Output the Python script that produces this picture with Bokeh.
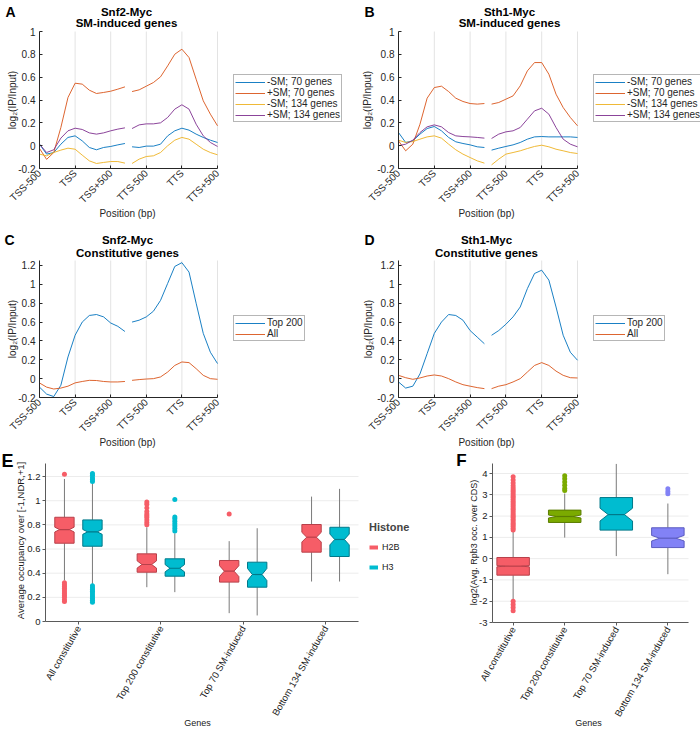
import math
from bokeh.plotting import figure
from bokeh.models import Range1d, FixedTicker, Label, Legend, LegendItem
from bokeh.layouts import column, row
from bokeh.embed import file_html
from bokeh.resources import INLINE

FONT = "Liberation Sans"
INK = "#262626"

# ---------------- profile data (panels A-D) ----------------
POS_TICKS = [0, 500, 1000, 1500, 2000, 2500]
POS_LABELS = ["TSS-500", "TSS", "TSS+500", "TTS-500", "TTS", "TTS+500"]
SEG1_X = [0, 100, 200, 300, 400, 500, 600, 700, 800, 900, 1000, 1100, 1200]
SEG2_X = [1300, 1400, 1500, 1600, 1700, 1800, 1900, 2000, 2100, 2200, 2300, 2400, 2500]

A_MINUS_70_S1 = [0.013, -0.074, -0.06, 0.013, 0.072, 0.086, 0.042, -0.016, -0.036, -0.016, -0.007, 0.007, 0.019]
A_MINUS_70_S2 = [-0.01, -0.016, -0.004, -0.004, 0.013, 0.086, 0.13, 0.153, 0.136, 0.101, 0.072, 0.048, 0.028]
A_PLUS_70_S1 = [-0.025, -0.12, -0.06, 0.159, 0.422, 0.547, 0.539, 0.486, 0.457, 0.466, 0.477, 0.495, 0.515]
A_PLUS_70_S2 = [0.474, 0.489, 0.521, 0.553, 0.603, 0.699, 0.801, 0.845, 0.772, 0.582, 0.393, 0.276, 0.174]
A_MINUS_134_S1 = [-0.074, -0.089, -0.06, -0.039, -0.022, -0.031, -0.083, -0.133, -0.156, -0.147, -0.139, -0.139, -0.153]
A_MINUS_134_S2 = [-0.156, -0.118, -0.095, -0.089, -0.06, -0.001, 0.048, 0.072, 0.057, 0.013, -0.031, -0.06, -0.08]
A_PLUS_134_S1 = [0.013, -0.06, -0.036, 0.066, 0.13, 0.153, 0.142, 0.112, 0.101, 0.112, 0.13, 0.145, 0.156]
A_PLUS_134_S2 = [0.15, 0.182, 0.191, 0.191, 0.2, 0.247, 0.32, 0.358, 0.32, 0.188, 0.086, 0.028, -0.007]

B_MINUS_70_S1 = [0.115, 0.028, 0.042, 0.101, 0.15, 0.168, 0.13, 0.072, 0.034, 0.019, 0.007, -0.01, -0.016]
B_MINUS_70_S2 = [-0.039, -0.022, -0.007, 0.007, 0.028, 0.057, 0.077, 0.08, 0.077, 0.077, 0.077, 0.077, 0.072]
B_PLUS_70_S1 = [0.042, -0.045, 0.013, 0.188, 0.416, 0.509, 0.521, 0.474, 0.416, 0.387, 0.369, 0.364, 0.369]
B_PLUS_70_S2 = [0.364, 0.378, 0.407, 0.436, 0.524, 0.655, 0.728, 0.728, 0.626, 0.451, 0.334, 0.247, 0.174]
B_MINUS_134_S1 = [0.048, 0.028, 0.036, 0.057, 0.077, 0.086, 0.066, 0.013, -0.036, -0.074, -0.104, -0.133, -0.153]
B_MINUS_134_S2 = [-0.168, -0.118, -0.074, -0.06, -0.045, -0.025, -0.007, 0.004, -0.01, -0.031, -0.045, -0.06, -0.069]
B_PLUS_134_S1 = [-0.001, 0.013, 0.048, 0.115, 0.165, 0.182, 0.165, 0.115, 0.086, 0.08, 0.077, 0.072, 0.066]
B_PLUS_134_S2 = [0.063, 0.101, 0.121, 0.13, 0.159, 0.232, 0.305, 0.328, 0.276, 0.159, 0.057, 0.013, -0.01]

C_TOP200_S1 = [-0.09, -0.164, -0.19, -0.07, 0.23, 0.46, 0.6, 0.67, 0.68, 0.655, 0.59, 0.555, 0.5]
C_TOP200_S2 = [0.6, 0.62, 0.655, 0.715, 0.83, 1.01, 1.19, 1.23, 1.13, 0.8, 0.48, 0.28, 0.16]
C_ALL_S1 = [-0.046, -0.09, -0.11, -0.1, -0.08, -0.045, -0.03, -0.018, -0.02, -0.03, -0.035, -0.035, -0.03]
C_ALL_S2 = [-0.018, -0.01, -0.004, 0.0, 0.018, 0.07, 0.14, 0.177, 0.17, 0.106, 0.035, 0.0, -0.007]

D_TOP200_S1 = [-0.035, -0.1, -0.08, 0.05, 0.265, 0.48, 0.6, 0.68, 0.67, 0.62, 0.51, 0.44, 0.37]
D_TOP200_S2 = [0.46, 0.51, 0.577, 0.655, 0.76, 0.955, 1.115, 1.15, 1.045, 0.76, 0.46, 0.28, 0.195]
D_ALL_S1 = [0.035, 0.01, -0.007, 0.007, 0.028, 0.039, 0.028, 0.0, -0.035, -0.064, -0.08, -0.095, -0.106]
D_ALL_S2 = [-0.106, -0.08, -0.064, -0.035, 0.0, 0.07, 0.14, 0.17, 0.14, 0.08, 0.035, 0.01, 0.007]

SM_LABELS = ["-SM; 70 genes", "+SM; 70 genes", "-SM; 134 genes", "+SM; 134 genes"]
CONST_LABELS = ["Top 200", "All"]
ML_COLORS = ["#0072BD", "#D95319", "#EDB120", "#7E2F8E"]

# ---------------- box data (panels E, F) ----------------
GENE_CATS = ["All constitutive", "Top 200 constitutive", "Top 70 SM-induced", "Bottom 134 SM-induced"]
HISTONES = ["H2B", "H3"]

E_H2B_Q1 = [0.648, 0.408, 0.326, 0.574]
E_H2B_MED = [0.761, 0.472, 0.417, 0.698]
E_H2B_Q3 = [0.863, 0.560, 0.505, 0.803]
E_H2B_WLO = [0.34, 0.284, 0.069, 0.331]
E_H2B_WHI = [1.18, 0.78, 0.665, 1.034]
E_H2B_NOTCH = [0.02, 0.03, 0.045, 0.04]
E_H2B_OUT_CAT = [1] * 12 + [2] * 10 + [3]
E_H2B_OUT_VAL = [1.22, 0.165, 0.18, 0.2, 0.215, 0.23, 0.245, 0.26, 0.275, 0.29, 0.305, 0.32,
                 0.80, 0.82, 0.84, 0.86, 0.875, 0.89, 0.91, 0.94, 0.97, 0.99, 0.89]

E_H3_Q1 = [0.623, 0.375, 0.284, 0.538]
E_H3_MED = [0.742, 0.441, 0.389, 0.679]
E_H3_Q3 = [0.841, 0.519, 0.491, 0.780]
E_H3_WLO = [0.31, 0.243, 0.05, 0.331]
E_H3_WHI = [1.15, 0.73, 0.772, 1.098]
E_H3_NOTCH = [0.02, 0.03, 0.05, 0.045]
E_H3_OUT_CAT = [1] * 15 + [2] * 8
E_H3_OUT_VAL = [1.16, 1.175, 1.19, 1.21, 1.225, 0.16, 0.175, 0.19, 0.205, 0.22, 0.235, 0.25, 0.265, 0.28, 0.295,
                0.75, 0.77, 0.79, 0.81, 0.83, 0.85, 0.865, 1.01]

F_Q1 = [-0.776, 1.70, 1.34, 0.52]
F_MED = [-0.353, 1.98, 2.07, 0.96]
F_Q3 = [0.054, 2.28, 2.87, 1.45]
F_WLO = [-1.95, 0.99, 0.12, -0.73]
F_WHI = [1.30, 3.06, 4.45, 2.59]
F_NOTCH = [0.03, 0.07, 0.3, 0.13]
F_OUT_CAT = [1] * 32 + [2] * 6 + [4] * 3
F_OUT_VAL = [1.35, 1.43, 1.52, 1.6, 1.68, 1.77, 1.85, 1.94, 2.02, 2.1, 2.19, 2.28, 2.36, 2.45, 2.53, 2.62,
             2.7, 2.79, 2.88, 2.96, 3.05, 3.14, 3.23, 3.32, 3.42, 3.55, 3.7, 3.85,
             -2.0, -2.15, -2.3, -2.45,
             3.2, 3.3, 3.45, 3.6, 3.75, 3.9,
             3.05, 3.15, 3.28]

E_FILL = {"H2B": "#F65D67", "H3": "#00BCD0"}
E_LINE = {"H2B": "#B8404A", "H3": "#00798A"}
F_FILL = ["#F65D67", "#7BAA00", "#00BCD0", "#8282F6"]
F_LINE = ["#B8404A", "#5A7D00", "#00798A", "#5C5CC0"]


def canvas_fig(W, H, L, R, T, B, x0, x1, y0, y1):
    """Figure whose frame fills the whole canvas; data box [x0,x1]x[y0,y1] maps to pixels L..R, T..B."""
    sx = (x1 - x0) / (R - L)
    sy = (y1 - y0) / (B - T)
    p = figure(width=W, height=H, output_backend="svg", toolbar_location=None,
               x_range=Range1d(x0 - L * sx, x1 + (W - R) * sx),
               y_range=Range1d(y0 - (H - B) * sy, y1 + T * sy),
               min_border=0)
    if p.title is not None:
        p.title.visible = False
    p.outline_line_color = None
    p.xgrid.visible = False
    p.ygrid.visible = False
    p.xaxis.fixed_location = y0
    p.xaxis.bounds = (x0, x1)
    p.yaxis.fixed_location = x0
    p.yaxis.bounds = (y0, y1)
    return p


def txt(p, x, y, text, size, bold=False, angle=0.0, color="black", align="center"):
    p.add_layout(Label(x=x, y=p.height - y, x_units="screen", y_units="screen", text=text, angle=angle,
                       text_font=FONT, text_font_size=size,
                       text_font_style="bold" if bold else "normal",
                       text_align=align, text_baseline="middle", text_color=color))


def fmt_overrides(ticks):
    return {t: f"{t:g}" for t in ticks}


def style_axes(p, color, tick_in, tick_out, size, label_color):
    for ax in (p.xaxis[0], p.yaxis[0]):
        ax.axis_line_color = color
        ax.major_tick_line_color = color
        ax.major_tick_in = tick_in
        ax.major_tick_out = tick_out
        ax.minor_tick_line_color = None
        ax.major_label_text_font = FONT
        ax.major_label_text_font_size = size
        ax.major_label_text_color = label_color


def profile(W, H, L, R, T, B, ytop, yticks, series, labels, legend_loc,
            titles, title_x, title_ys, letter, letter_x, ylab_x, pos_xy):
    p = canvas_fig(W, H, L, R, T, B, 0, 2500, -0.2, ytop)
    p.segment(x0=POS_TICKS, y0=[-0.2] * len(POS_TICKS), x1=POS_TICKS, y1=[ytop] * len(POS_TICKS),
              line_color="#e3e3e3", line_width=1)
    p.xaxis.ticker = FixedTicker(ticks=POS_TICKS)
    p.xaxis.major_label_overrides = dict(zip(POS_TICKS, POS_LABELS))
    p.xaxis.major_label_orientation = math.pi / 4
    p.xaxis.major_label_standoff = 3
    p.yaxis.ticker = FixedTicker(ticks=yticks)
    p.yaxis.major_label_overrides = fmt_overrides(yticks)
    p.yaxis.major_label_standoff = 4
    style_axes(p, INK, 3, 0, "10px", INK)

    items = []
    for (s1, s2), lab, col in zip(series, labels, ML_COLORS):
        r1 = p.line(SEG1_X, s1, line_color=col, line_width=0.9)
        p.line(SEG2_X, s2, line_color=col, line_width=0.9)
        items.append(LegendItem(label=lab, renderers=[r1]))
    leg = Legend(items=items, location=legend_loc, border_line_color="#6e6e6e", border_line_width=1,
                 label_text_font=FONT, label_text_font_size="10px", label_text_color=INK,
                 label_text_line_height=1.0,
                 glyph_width=30, glyph_height=10, label_height=10, spacing=0, padding=1, margin=0,
                 label_standoff=2, background_fill_color="white", background_fill_alpha=1)
    p.add_layout(leg)
    txt(p, title_x, title_ys[0], titles[0], "11.5px", bold=True)
    txt(p, title_x, title_ys[1], titles[1], "11.5px", bold=True)
    txt(p, letter_x, title_ys[0], letter, "14px", bold=True)
    txt(p, ylab_x, (T + B) / 2, "log\u2082(IP/Input)", "10px", angle=math.pi / 2, color=INK)
    txt(p, pos_xy[0], pos_xy[1], "Position (bp)", "10px", color=INK)
    return p


def notched(xc, w, q1, med, q3, nh):
    hw, nw = w / 2, w / 4
    xs = [xc - hw, xc + hw, xc + hw, xc + nw, xc + hw, xc + hw, xc - hw, xc - hw, xc - nw, xc - hw]
    ys = [q1, q1, med - nh, med, med + nh, q3, q3, med + nh, med, med - nh]
    return xs, ys


def style_gg(p, yticks):
    p.segment(x0=[0.6] * len(yticks), y0=yticks, x1=[4.4] * len(yticks), y1=yticks,
              line_color="#ececec", line_width=1)
    p.xaxis.ticker = FixedTicker(ticks=[1, 2, 3, 4])
    p.xaxis.major_label_overrides = dict(zip([1, 2, 3, 4], GENE_CATS))
    p.xaxis.major_label_orientation = math.pi / 3
    p.xaxis.major_label_standoff = 2
    p.yaxis.ticker = FixedTicker(ticks=yticks)
    p.yaxis.major_label_overrides = fmt_overrides(yticks)
    p.yaxis.major_label_standoff = 2
    style_axes(p, "#5a5a5a", 0, 3, "9.5px", "#1a1a1a")


def draw_boxes(p, xcs, w, q1, med, q3, wlo, whi, nh, fills, lines):
    xs, ys = [], []
    for i in range(len(xcs)):
        bx, by = notched(xcs[i], w, q1[i], med[i], q3[i], nh[i])
        xs.append(bx)
        ys.append(by)
    p.segment(x0=xcs, y0=q3, x1=xcs, y1=whi, line_color="#7a7a7a", line_width=1)
    p.segment(x0=xcs, y0=wlo, x1=xcs, y1=q1, line_color="#7a7a7a", line_width=1)
    p.patches(xs=xs, ys=ys, fill_color=fills, line_color=lines, line_width=1)
    p.segment(x0=[x - w / 4 for x in xcs], y0=med, x1=[x + w / 4 for x in xcs], y1=med,
              line_color=lines, line_width=1.2)


# ---------------- panels A-D ----------------
YT1 = [-0.2, 0, 0.2, 0.4, 0.6, 0.8, 1]
YT2 = [-0.2, 0, 0.2, 0.4, 0.6, 0.8, 1, 1.2]
pA = profile(350, 225, 39, 217, 31, 168, 1.0, YT1,
             [(A_MINUS_70_S1, A_MINUS_70_S2), (A_PLUS_70_S1, A_PLUS_70_S2),
              (A_MINUS_134_S1, A_MINUS_134_S2), (A_PLUS_134_S1, A_PLUS_134_S2)],
             SM_LABELS, (233, 103), ("Snf2-Myc", "SM-induced genes"), 126, (11, 22), "A", 10, 12, (127, 213))
pB = profile(350, 225, 48, 227, 31, 168, 1.0, YT1,
             [(B_MINUS_70_S1, B_MINUS_70_S2), (B_PLUS_70_S1, B_PLUS_70_S2),
              (B_MINUS_134_S1, B_MINUS_134_S2), (B_PLUS_134_S1, B_PLUS_134_S2)],
             SM_LABELS, (243, 103), ("Sth1-Myc", "SM-induced genes"), 159, (11, 22), "B", 19, 17, (136, 213))
pC = profile(350, 224, 39, 217, 35, 172, 1.253, YT2,
             [(C_TOP200_S1, C_TOP200_S2), (C_ALL_S1, C_ALL_S2)],
             CONST_LABELS, (233, 108), ("Snf2-Myc", "Constitutive genes"), 127, (14, 27), "C", 9, 12, (127, 217))
pD = profile(350, 224, 48, 227, 35, 172, 1.253, YT2,
             [(D_TOP200_S1, D_TOP200_S2), (D_ALL_S1, D_ALL_S2)],
             CONST_LABELS, (243, 108), ("Sth1-Myc", "Constitutive genes"), 136, (14, 27), "D", 19, 18, (136, 217))

# ---------------- panel E ----------------
cats = [1, 2, 3, 4]
DODGE = 0.17
BW_E = 0.235
pE = canvas_fig(448, 280, 45, 358, 14, 172, 0.6, 4.4, 0.0, 1.308)
style_gg(pE, [0, 0.2, 0.4, 0.6, 0.8, 1, 1.2])
draw_boxes(pE, [c - DODGE for c in cats], BW_E, E_H2B_Q1, E_H2B_MED, E_H2B_Q3, E_H2B_WLO, E_H2B_WHI,
           E_H2B_NOTCH, [E_FILL["H2B"]] * 4, [E_LINE["H2B"]] * 4)
draw_boxes(pE, [c + DODGE for c in cats], BW_E, E_H3_Q1, E_H3_MED, E_H3_Q3, E_H3_WLO, E_H3_WHI,
           E_H3_NOTCH, [E_FILL["H3"]] * 4, [E_LINE["H3"]] * 4)
pE.scatter([c - DODGE for c in E_H2B_OUT_CAT], E_H2B_OUT_VAL, size=5, color=E_FILL["H2B"], line_color=None)
pE.scatter([c + DODGE for c in E_H3_OUT_CAT], E_H3_OUT_VAL, size=5, color=E_FILL["H3"], line_color=None)
# legend key proxies (placed off-canvas, only their legend swatches are seen)
leg_items = []
for h in HISTONES:
    lr = pE.line(x=[-5, -4], y=[-5, -5], line_color=E_FILL[h], line_width=4)
    leg_items.append(LegendItem(label=h, renderers=[lr]))
legE = Legend(items=leg_items, location=(369, 156), title="Histone", title_text_font=FONT,
              title_text_font_size="11px", title_text_font_style="bold", title_standoff=8,
              label_text_font=FONT, label_text_font_size="9px", label_text_color="#1a1a1a",
              glyph_width=9, glyph_height=12, label_height=12, spacing=8, padding=0, margin=0,
              label_standoff=4, border_line_color=None, background_fill_alpha=0)
pE.add_layout(legE)
txt(pE, 7, 11, "E", "18px", bold=True)
txt(pE, 20, 91, "Average occupancy over [-1,NDR,+1]", "9.5px", angle=math.pi / 2, color="#1a1a1a")
txt(pE, 197, 273, "Genes", "9px", color="#1a1a1a")

# ---------------- panel F ----------------
pF = canvas_fig(252, 280, 44, 240, 14, 173, 0.6, 4.4, -3.0, 4.47)
style_gg(pF, [-3, -2, -1, 0, 1, 2, 3, 4])
draw_boxes(pF, cats, 0.63, F_Q1, F_MED, F_Q3, F_WLO, F_WHI, F_NOTCH, F_FILL, F_LINE)
pF.scatter(F_OUT_CAT, F_OUT_VAL, size=5, color=[F_FILL[c - 1] for c in F_OUT_CAT], line_color=None)
txt(pF, 13, 11, "F", "17px", bold=True)
txt(pF, 25, 93, "log2(Avg. Rpb3 occ. over CDS)", "9px", angle=math.pi / 2, color="#1a1a1a")
txt(pF, 140, 273, "Genes", "9px", color="#1a1a1a")

layout = column(row(pA, pB), row(pC, pD), row(pE, pF))
open("out.html", "w").write(file_html(layout, INLINE))
